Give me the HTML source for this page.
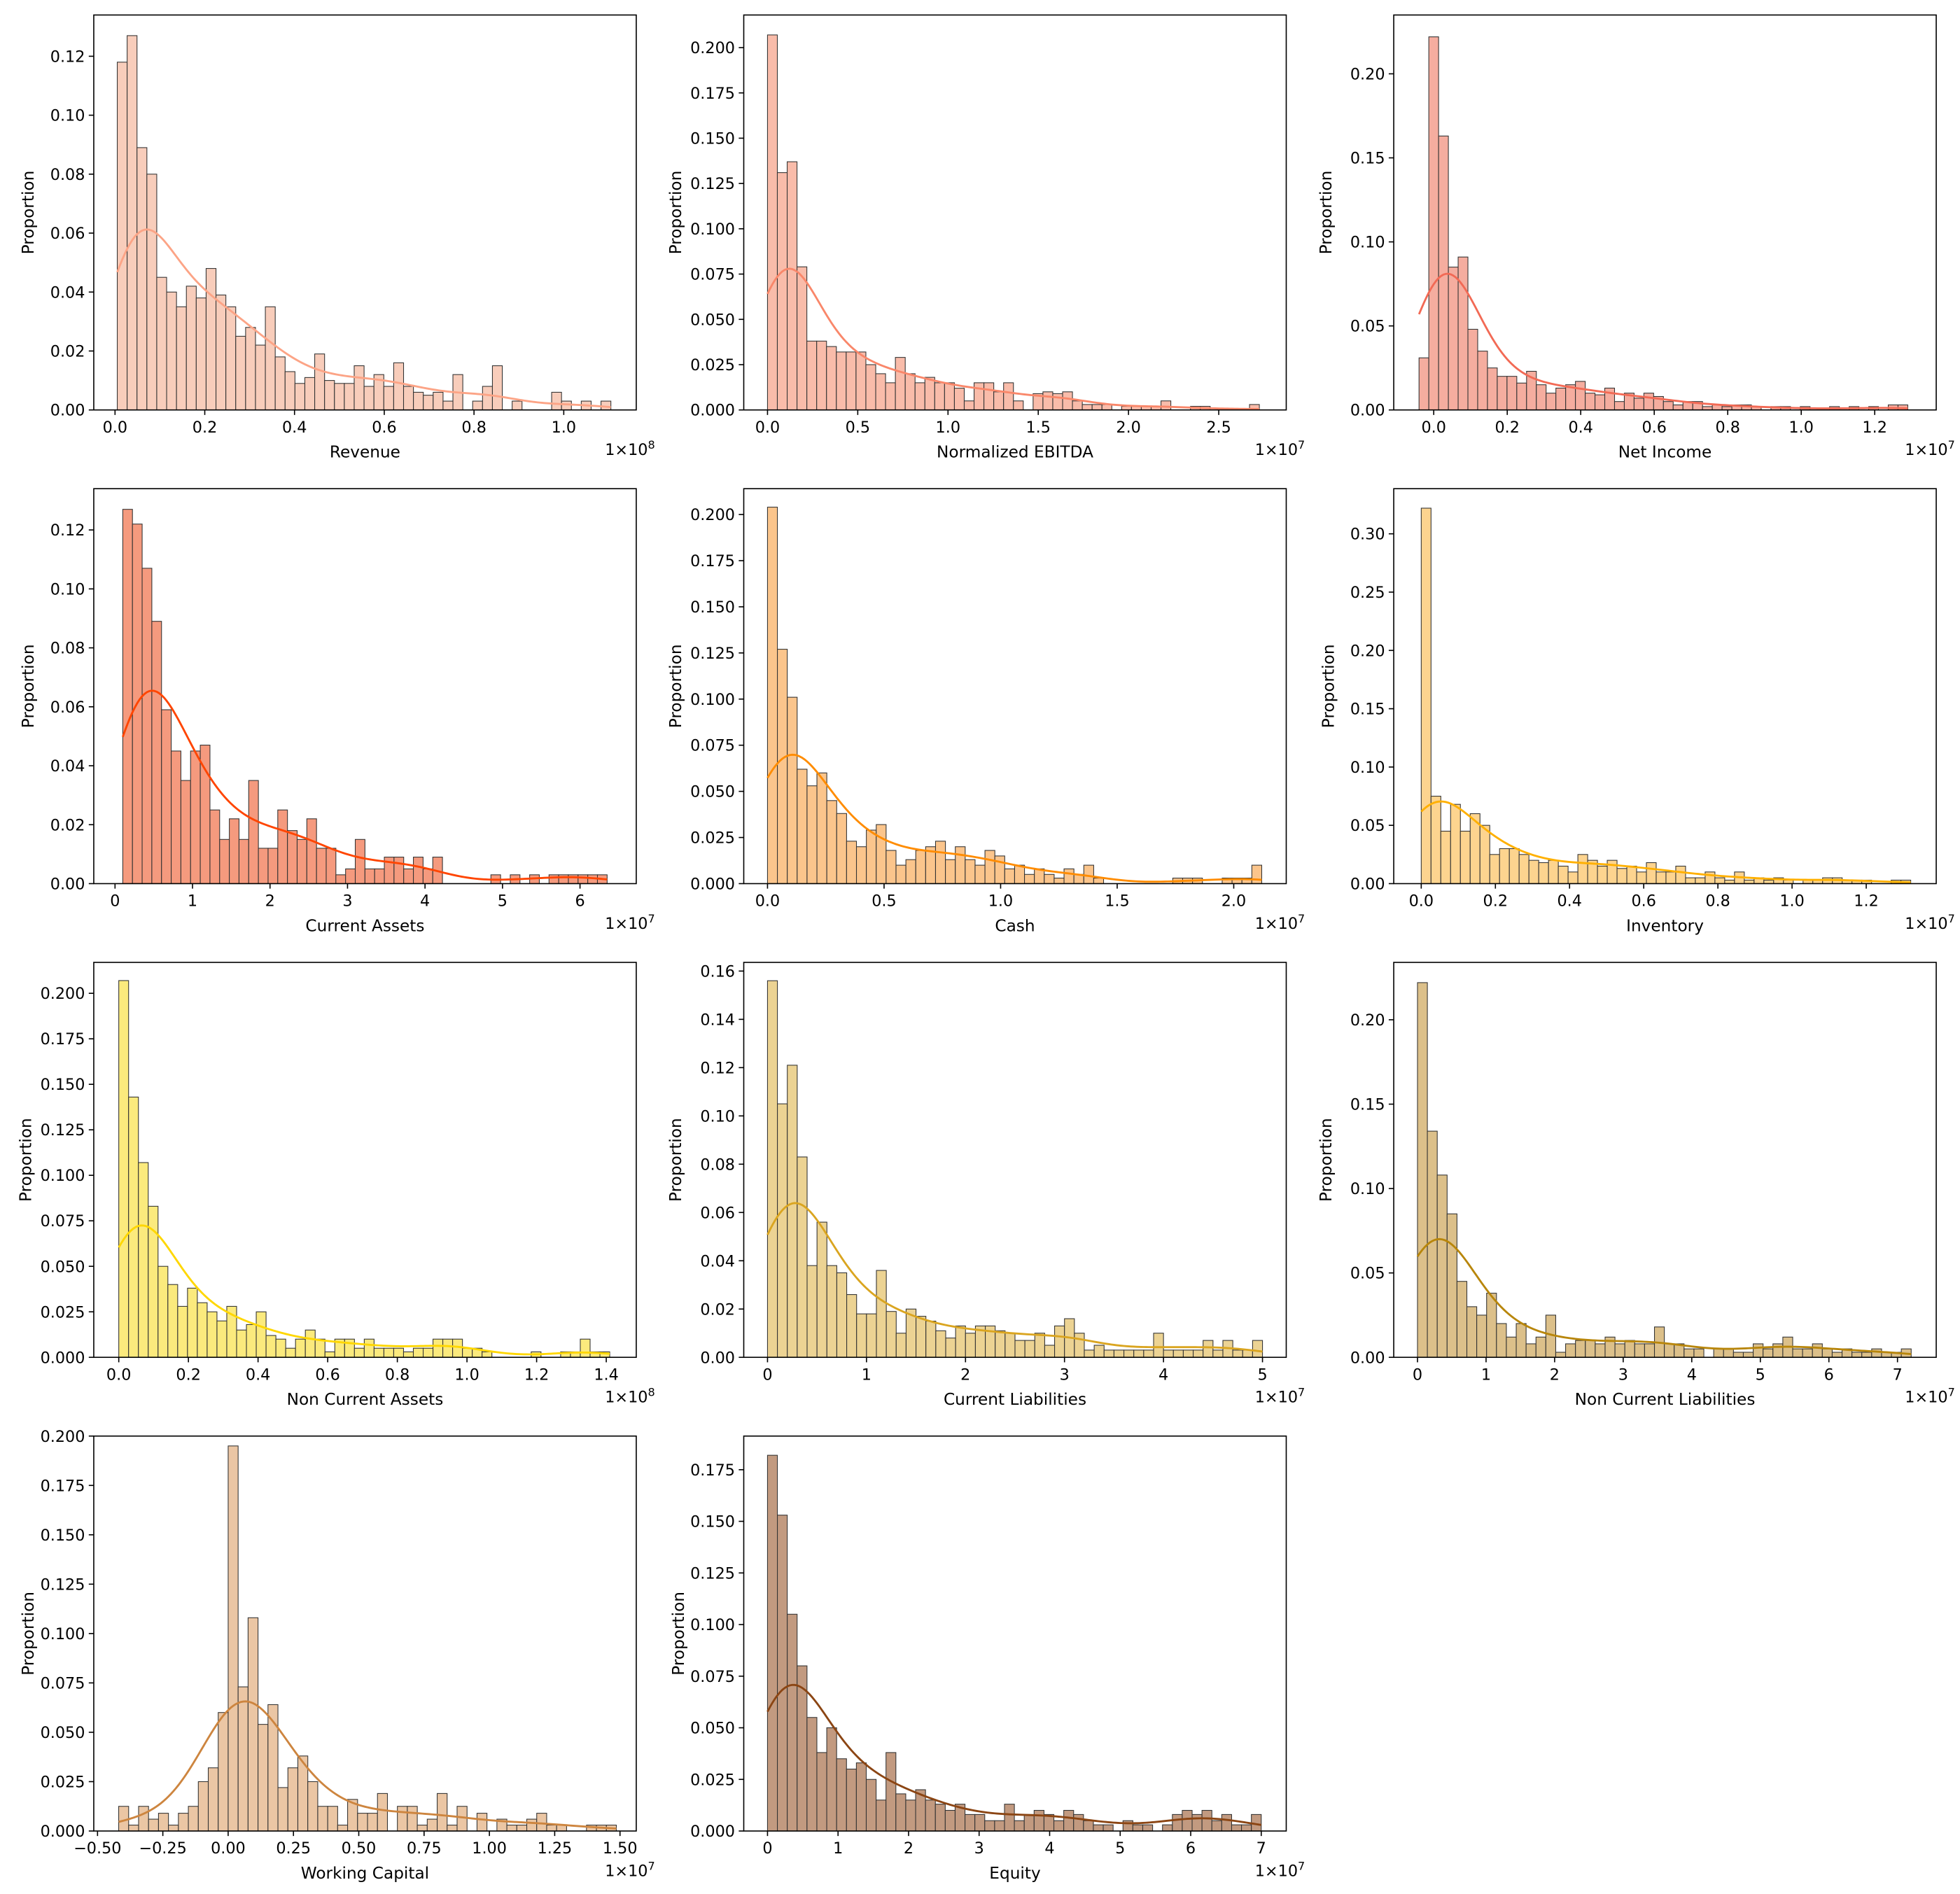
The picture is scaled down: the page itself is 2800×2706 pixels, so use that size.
<!DOCTYPE html>
<html><head><meta charset="utf-8"><style>
body{margin:0;background:#fff}
svg{display:block}
text{font-family:"DejaVu Sans","Liberation Sans",sans-serif;fill:#000}
</style></head><body>
<svg id="chart" width="2800" height="2706" viewBox="0 0 1568 1515.4" xmlns="http://www.w3.org/2000/svg"></svg>
<script>
// ---- data (proportions per bin) ----
const revenueValues=[0.118,0.127,0.089,0.080,0.045,0.040,0.035,0.042,0.038,0.048,0.039,0.035,0.025,0.028,0.022,0.035,0.018,0.013,0.009,0.011,0.019,0.010,0.009,0.009,0.015,0.008,0.012,0.008,0.016,0.008,0.006,0.005,0.006,0.003,0.012,0.0,0.003,0.008,0.015,0.0,0.003,0.0,0.0,0.0,0.006,0.003,0.0,0.003,0.0,0.003];
const ebitdaValues=[0.207,0.131,0.137,0.079,0.038,0.038,0.035,0.032,0.032,0.032,0.025,0.020,0.015,0.029,0.020,0.015,0.018,0.015,0.015,0.012,0.005,0.015,0.015,0.010,0.015,0.005,0.0,0.009,0.010,0.009,0.010,0.005,0.003,0.003,0.003,0.0,0.002,0.002,0.002,0.002,0.005,0.0,0.0,0.002,0.002,0.0,0.0,0.0,0.0,0.003];
const netIncomeValues=[0.031,0.222,0.163,0.085,0.091,0.048,0.035,0.025,0.020,0.020,0.016,0.023,0.015,0.010,0.013,0.015,0.017,0.010,0.009,0.013,0.005,0.010,0.007,0.010,0.008,0.005,0.003,0.005,0.005,0.002,0.003,0.002,0.003,0.003,0.002,0.0,0.002,0.002,0.0,0.002,0.0,0.0,0.002,0.0,0.002,0.0,0.002,0.0,0.003,0.003];
const currentAssetsValues=[0.127,0.122,0.107,0.089,0.059,0.045,0.035,0.045,0.047,0.025,0.015,0.022,0.015,0.035,0.012,0.012,0.025,0.018,0.015,0.022,0.012,0.012,0.003,0.005,0.015,0.005,0.005,0.009,0.009,0.005,0.009,0.005,0.009,0.0,0.0,0.0,0.0,0.0,0.003,0.0,0.003,0.0,0.003,0.0,0.003,0.003,0.003,0.003,0.003,0.003];
const cashValues=[0.204,0.127,0.101,0.062,0.053,0.060,0.045,0.038,0.023,0.020,0.029,0.032,0.018,0.010,0.013,0.018,0.020,0.023,0.013,0.020,0.013,0.010,0.018,0.015,0.008,0.010,0.005,0.008,0.005,0.003,0.008,0.005,0.010,0.003,0.0,0.0,0.0,0.0,0.0,0.0,0.0,0.003,0.003,0.003,0.0,0.0,0.003,0.003,0.003,0.010];
const inventoryValues=[0.322,0.075,0.045,0.068,0.045,0.060,0.050,0.025,0.030,0.030,0.025,0.020,0.018,0.020,0.015,0.010,0.025,0.020,0.015,0.020,0.013,0.015,0.010,0.018,0.010,0.010,0.015,0.005,0.005,0.010,0.005,0.003,0.010,0.003,0.005,0.003,0.005,0.003,0.0,0.003,0.003,0.005,0.005,0.003,0.003,0.003,0.0,0.0,0.003,0.003];
const nonCurrentAssetsValues=[0.207,0.143,0.107,0.083,0.050,0.040,0.028,0.038,0.030,0.025,0.020,0.028,0.015,0.018,0.025,0.012,0.010,0.005,0.010,0.015,0.010,0.003,0.010,0.010,0.005,0.010,0.005,0.005,0.005,0.003,0.005,0.005,0.010,0.010,0.010,0.005,0.005,0.003,0.0,0.0,0.0,0.0,0.003,0.0,0.0,0.003,0.003,0.010,0.003,0.003];
const currentLiabilitiesValues=[0.156,0.105,0.121,0.083,0.038,0.056,0.038,0.035,0.026,0.018,0.018,0.036,0.019,0.010,0.020,0.017,0.015,0.011,0.008,0.013,0.010,0.013,0.013,0.011,0.010,0.007,0.007,0.010,0.005,0.013,0.016,0.010,0.003,0.005,0.003,0.003,0.003,0.003,0.003,0.010,0.003,0.003,0.003,0.003,0.007,0.003,0.007,0.003,0.003,0.007];
const nonCurrentLiabilitiesValues=[0.222,0.134,0.108,0.085,0.045,0.030,0.025,0.038,0.020,0.012,0.020,0.008,0.012,0.025,0.003,0.008,0.010,0.010,0.008,0.012,0.008,0.010,0.008,0.008,0.018,0.008,0.008,0.005,0.005,0.0,0.005,0.005,0.003,0.003,0.008,0.005,0.008,0.012,0.005,0.005,0.008,0.005,0.003,0.005,0.003,0.003,0.005,0.003,0.003,0.005];
const workingCapitalValues=[0.0125,0.003,0.0125,0.006,0.009,0.003,0.009,0.0125,0.025,0.032,0.060,0.195,0.073,0.108,0.054,0.064,0.022,0.032,0.038,0.025,0.0125,0.0125,0.003,0.016,0.009,0.009,0.019,0.0,0.0125,0.0125,0.003,0.006,0.019,0.003,0.0125,0.0,0.009,0.0,0.006,0.003,0.003,0.006,0.009,0.003,0.003,0.0,0.0,0.003,0.003,0.003];
const equityValues=[0.182,0.153,0.105,0.080,0.055,0.038,0.050,0.035,0.030,0.033,0.025,0.015,0.038,0.018,0.015,0.020,0.015,0.013,0.010,0.013,0.008,0.008,0.005,0.005,0.013,0.005,0.008,0.010,0.008,0.005,0.010,0.008,0.005,0.003,0.003,0.0,0.005,0.003,0.003,0.0,0.003,0.008,0.010,0.008,0.010,0.005,0.008,0.003,0.003,0.008];
// bin starts / widths (data units, scaled by offset)
const binStarts=[0.005,0.0,-0.04,0.1,0.0,0.0,0.0,0.0,0.0,-0.419,0.0];
const binWidths=[0.022,0.0545,0.0266,0.125,0.0424,0.0264,0.0282,0.1,0.144,0.0381,0.14];
const titles=["Revenue","Normalized EBITDA","Net Income","Current Assets","Cash","Inventory","Non Current Assets","Current Liabilities","Non Current Liabilities","Working Capital","Equity"];
const offsetLabels=["8","7","7","7","7","7","8","7","7","7","7"];
const xTickValues=[[0,0.2,0.4,0.6,0.8,1.0],[0,0.5,1.0,1.5,2.0,2.5],[0,0.2,0.4,0.6,0.8,1.0,1.2],[0,1,2,3,4,5,6],[0,0.5,1.0,1.5,2.0],[0,0.2,0.4,0.6,0.8,1.0,1.2],[0,0.2,0.4,0.6,0.8,1.0,1.2,1.4],[0,1,2,3,4,5],[0,1,2,3,4,5,6,7],[-0.5,-0.25,0,0.25,0.5,0.75,1.0,1.25,1.5],[0,1,2,3,4,5,6,7]];
const xTickLabels=[["0.0","0.2","0.4","0.6","0.8","1.0"],["0.0","0.5","1.0","1.5","2.0","2.5"],["0.0","0.2","0.4","0.6","0.8","1.0","1.2"],["0","1","2","3","4","5","6"],["0.0","0.5","1.0","1.5","2.0"],["0.0","0.2","0.4","0.6","0.8","1.0","1.2"],["0.0","0.2","0.4","0.6","0.8","1.0","1.2","1.4"],["0","1","2","3","4","5"],["0","1","2","3","4","5","6","7"],["\u22120.50","\u22120.25","0.00","0.25","0.50","0.75","1.00","1.25","1.50"],["0","1","2","3","4","5","6","7"]];
const yTickValues=[[0,0.02,0.04,0.06,0.08,0.10,0.12],[0,0.025,0.05,0.075,0.1,0.125,0.15,0.175,0.2],[0,0.05,0.1,0.15,0.2],[0,0.02,0.04,0.06,0.08,0.10,0.12],[0,0.025,0.05,0.075,0.1,0.125,0.15,0.175,0.2],[0,0.05,0.1,0.15,0.2,0.25,0.3],[0,0.025,0.05,0.075,0.1,0.125,0.15,0.175,0.2],[0,0.02,0.04,0.06,0.08,0.10,0.12,0.14,0.16],[0,0.05,0.1,0.15,0.2],[0,0.025,0.05,0.075,0.1,0.125,0.15,0.175,0.2],[0,0.025,0.05,0.075,0.1,0.125,0.15,0.175]];
const yTickLabels=[["0.00","0.02","0.04","0.06","0.08","0.10","0.12"],["0.000","0.025","0.050","0.075","0.100","0.125","0.150","0.175","0.200"],["0.00","0.05","0.10","0.15","0.20"],["0.00","0.02","0.04","0.06","0.08","0.10","0.12"],["0.000","0.025","0.050","0.075","0.100","0.125","0.150","0.175","0.200"],["0.00","0.05","0.10","0.15","0.20","0.25","0.30"],["0.000","0.025","0.050","0.075","0.100","0.125","0.150","0.175","0.200"],["0.00","0.02","0.04","0.06","0.08","0.10","0.12","0.14","0.16"],["0.00","0.05","0.10","0.15","0.20"],["0.000","0.025","0.050","0.075","0.100","0.125","0.150","0.175","0.200"],["0.000","0.025","0.050","0.075","0.100","0.125","0.150","0.175"]];
const allValues=[revenueValues,ebitdaValues,netIncomeValues,currentAssetsValues,cashValues,inventoryValues,nonCurrentAssetsValues,currentLiabilitiesValues,nonCurrentLiabilitiesValues,workingCapitalValues,equityValues];

// ---- layout / style (not data) ----
const colsX=[75,595,1115], rowsY=[12,391,770,1149], AW=434, AH=316;
const xCal=[[0,17,1.0,376],[0,19,2.5,380],[0,32,1.0,326],[0,17,6,389],[0,19,2.0,392],[0,22,1.2,378],[0,20,1.4,410],[0,19,5,415],[0,19,7,403],[-0.5,3,1.5,421],[0,19,7,414]];
const yTop=[0.134,0.218,0.235,0.134,0.214,0.3387,0.217,0.1636,0.234,0.2,0.1913];
const sigmaBins=[3.2,3.0,3.0,3.3,3.3,3.2,3.3,3.4,3.4,3.6,3.4];
const barFill=["#f8cdbb","#f9bcaa","#f5ad9f","#f59a7e","#fbc58c","#fdd48f","#fbea7d","#ecd393","#dcc08a","#ebc6a4","#c29a80"];
const lineCol=["#fca486","#f9876a","#f26a55","#ff4500","#ff8c00","#ffb000","#ffd700","#daa520","#b8860b","#cd853f","#8b4513"];

const NS="http://www.w3.org/2000/svg";
const svg=document.getElementById('chart');
function mk(tag,attrs,parent){const e=document.createElementNS(NS,tag);for(const k in attrs)e.setAttribute(k,attrs[k]);(parent||svg).appendChild(e);return e;}

allValues.forEach((vals,p)=>{
  const ox=colsX[p%3], oy=rowsY[Math.floor(p/3)];
  const g=mk('g',{});
  
  
  const c=xCal[p];
  const xs=v=>ox+c[1]+(v-c[0])*(c[3]-c[1])/(c[2]-c[0]);
  const ys=v=>oy+AH-v*AH/yTop[p];
  const s=binStarts[p], w=binWidths[p];
  vals.forEach((v,i)=>{
    if(v<=0)return;
    const x1=xs(s+i*w), x2=xs(s+(i+1)*w);
    const r=mk('rect',{x:x1,y:ys(v),width:x2-x1,height:ys(0)-ys(v),fill:barFill[p],stroke:'#333',"stroke-width":0.6},g);
    
    
  });
  const sig=sigmaBins[p]*w, n=vals.length, pts=[];
  for(let k=0;k<=200;k++){
    const x=s+(n*w)*k/200;let d=0;
    vals.forEach((v,i)=>{const cc=s+(i+0.5)*w;const z=(x-cc)/sig;d+=v*Math.exp(-0.5*z*z);});
    d*=w/(sig*Math.sqrt(2*Math.PI));
    pts.push(xs(x).toFixed(2)+','+ys(d).toFixed(2));
  }
  const kde=mk('polyline',{points:pts.join(' '),fill:'none',stroke:lineCol[p],"stroke-width":1.6},g);
  
  
  const fr=mk('rect',{x:ox,y:oy,width:AW,height:AH,fill:'none',stroke:'#000',"stroke-width":0.9},g);
  
  
  xTickValues[p].forEach((v,i)=>{
    const x=xs(v);
    mk('line',{x1:x,x2:x,y1:oy+AH,y2:oy+AH+4,stroke:'#000',"stroke-width":0.9},g);
    const t=mk('text',{x:x,y:oy+AH+18,"font-size":12.5,"text-anchor":"middle"},g);
    t.textContent=xTickLabels[p][i];
    
    
  });
  yTickValues[p].forEach((v,i)=>{
    const y=ys(v);
    mk('line',{x1:ox-4,x2:ox,y1:y,y2:y,stroke:'#000',"stroke-width":0.9},g);
    const t=mk('text',{x:ox-7,y:y+4.5,"font-size":12.5,"text-anchor":"end"},g);
    t.textContent=yTickLabels[p][i];
    
    
  });
  const xl=mk('text',{x:ox+AW/2,y:oy+AH+38,"font-size":13,"text-anchor":"middle"},g);
  xl.textContent=titles[p];
  
  
  const yl=mk('text',{x:0,y:0,"font-size":13,"text-anchor":"middle",transform:`translate(${ox-(p===9||p===10||p===3||p===0||p===5?48:50)},${oy+AH/2}) rotate(-90)`},g);
  yl.textContent='Proportion';
  
  
  const off=mk('text',{x:ox+AW+15,y:oy+AH+36,"font-size":12.5,"text-anchor":"end"},g);
  off.textContent='1\u00d710';
  const sup=mk('tspan',{dy:-5,"font-size":9},off);
  sup.textContent=offsetLabels[p];
  
  
});
</script>
</body></html>
